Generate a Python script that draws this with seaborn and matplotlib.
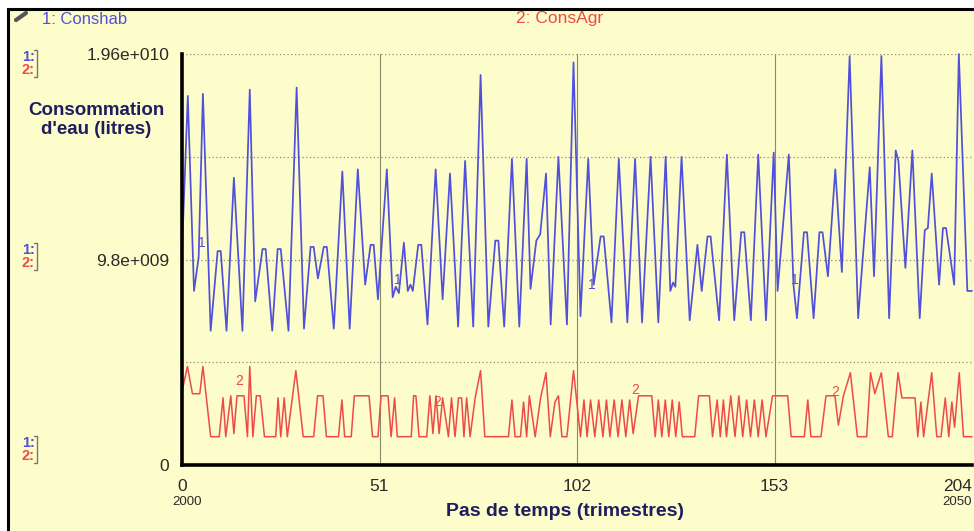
import matplotlib
matplotlib.use("Agg")
import matplotlib.pyplot as plt
import seaborn as sns
import pandas as pd
from matplotlib.patches import Rectangle
from matplotlib.lines import Line2D

# ---------------- data (values in 1e9 litres) ----------------
t_conshab = [0, 1.5, 3.1, 4.3, 5.4, 7.4, 9.2, 10.0, 11.5, 13.4, 15.6, 17.5, 18.9, 20.8, 21.6,
             23.3, 24.7, 25.5, 27.5, 29.6, 31.5, 33.2, 34.0, 35.1, 36.6, 37.4, 39.2, 41.4, 43.3,
             45.4, 47.3, 48.7, 49.5, 50.6, 52.9, 54.4, 55.2, 56.0, 57.3, 58.3, 59.0, 59.6, 61.0,
             61.8, 63.4, 65.5, 67.3, 69.2, 71.3, 73.1, 75.2, 77.1, 79.1, 80.9, 81.7, 83.2, 85.2,
             87.1, 89.0, 90.0, 91.5, 92.5, 94.0, 95.2, 97.2, 99.4, 101.1, 102.9, 104.9, 106.3,
             108.1, 108.9, 110.9, 112.8, 115.0, 117.0, 118.8, 121.0, 123.0, 124.9, 126.1, 126.8,
             127.4, 129.0, 131.1, 133.1, 134.2, 135.7, 136.5, 138.7, 140.7, 142.6, 144.4, 145.2,
             146.9, 148.8, 150.8, 152.8, 153.8, 156.7, 157.9, 158.8, 160.6, 161.4, 163.1, 164.6,
             165.4, 166.8, 168.7, 170.4, 172.4, 174.6, 177.6, 178.7, 180.6, 182.6, 184.3, 185.0,
             186.8, 188.6, 190.5, 191.8, 192.6, 193.6, 195.5, 196.5, 197.3, 199.4, 200.6, 202.8, 204]
conshab = [10.2, 17.6, 8.3, 9.9, 17.7, 6.4, 10.2, 10.2, 6.4, 13.7, 6.4, 17.9, 7.8, 10.3, 10.3,
           6.4, 10.3, 10.3, 6.4, 18.0, 6.5, 10.4, 10.4, 8.9, 10.4, 10.4, 6.5, 14.0, 6.5,
           14.1, 8.6, 10.5, 10.5, 7.9, 14.1, 8.0, 8.5, 8.2, 10.6, 8.3, 8.6, 8.3, 10.5,
           10.5, 6.7, 14.1, 7.9, 13.9, 6.6, 14.5, 6.6, 18.6, 6.6, 10.7, 10.7, 6.6, 14.6,
           6.6, 14.6, 8.4, 10.7, 11.0, 13.9, 6.7, 14.7, 6.7, 19.2, 7.1, 14.6, 8.6,
           10.9, 10.9, 6.8, 14.6, 6.8, 14.6, 6.8, 14.7, 6.8, 14.7, 8.3, 8.7,
           8.5, 14.7, 6.9, 10.5, 8.3, 10.9, 10.9, 6.9, 14.8, 6.9, 11.1, 11.1,
           6.9, 14.8, 6.9, 14.9, 8.3, 14.8, 8.6, 7.0, 11.1, 11.1, 7.0, 11.1,
           11.1, 9.0, 14.1, 9.2, 19.5, 7.0, 14.2, 9.0, 19.5, 7.0, 15.0, 14.5,
           9.4, 15.0, 7.0, 11.2, 11.3, 13.9, 8.6, 11.3, 11.3, 8.6, 19.6, 8.3, 8.3]

t_consagr = [0, 1.4, 2.7, 4.6, 5.4, 7.4, 9.6, 10.6, 11.3, 12.6, 13.4, 14.2, 16.0, 16.9, 17.5,
             18.3, 19.2, 20.2, 21.3, 24.2, 24.8, 25.5, 26.4, 27.2, 29.4, 31.3, 34.0, 35.0, 36.4,
             37.3, 40.4, 41.3, 42.0, 43.7, 44.5, 48.3, 49.2, 50.6, 51.4, 53.2, 54.0, 54.9, 55.6,
             59.2, 59.8, 60.4, 61.2, 63.2, 64.0, 64.8, 65.6, 66.4, 67.3, 68.8, 69.6, 70.5, 71.4,
             72.2, 72.8, 73.5, 74.4, 75.7, 77.1, 78.2, 84.3, 85.2, 86.0, 87.4, 88.2, 89.0, 89.7,
             91.2, 92.6, 94.0, 95.1, 96.3, 97.2, 98.1, 99.4, 101.1, 102.9, 103.8, 104.6, 105.5,
             106.6, 107.6, 108.7, 109.6, 110.5, 111.6, 112.6, 113.6, 114.6, 115.6, 116.5, 117.9,
             121.3, 122.2, 123.0, 123.9, 124.8, 125.7, 126.6, 127.5, 128.4, 129.2, 132.4, 133.4,
             136.2, 137.0, 138.2, 139.0, 139.8, 140.6, 141.7, 142.8, 143.8, 144.8, 145.8, 146.8,
             147.8, 148.8, 149.8, 150.8, 152.5, 156.4, 157.3, 160.7, 161.6, 162.4, 165.0, 166.3,
             168.6, 169.5, 170.8, 172.6, 174.4, 176.8, 177.8, 178.9, 180.6, 182.4, 183.4, 184.9,
             185.9, 189.3, 190.0, 190.8, 191.5, 193.6, 194.9, 196.0, 197.1, 198.0, 198.8, 199.5,
             200.7, 201.8, 204]
consagr = [3.5, 4.7, 3.4, 3.4, 4.7, 1.35, 1.35, 3.2, 1.35, 3.3, 1.5, 3.3, 3.3, 1.35, 4.7,
           1.35, 3.3, 3.3, 1.35, 1.35, 3.2, 1.35, 3.2, 1.35, 4.5, 1.35, 1.35, 3.3, 3.3,
           1.35, 1.35, 3.1, 1.35, 1.35, 3.3, 3.3, 1.35, 1.35, 3.3, 3.3, 1.35, 3.2, 1.35,
           1.35, 3.3, 3.3, 1.35, 1.35, 3.3, 1.5, 3.3, 1.5, 3.2, 1.35, 3.2, 1.35, 3.2,
           3.2, 1.35, 3.2, 1.35, 3.2, 4.5, 1.35, 1.35, 3.1, 1.35, 1.35, 3.0, 1.35, 3.3,
           1.35, 3.2, 4.4, 1.35, 3.0, 3.3, 1.35, 1.35, 4.5, 1.35, 3.1, 1.35, 3.1,
           1.35, 3.1, 1.35, 3.1, 1.35, 3.1, 1.35, 3.1, 1.35, 3.1, 1.5, 3.3,
           3.3, 1.35, 3.1, 1.35, 3.1, 1.35, 3.1, 1.35, 3.0, 1.35, 1.35, 3.3,
           3.3, 1.35, 3.1, 1.35, 3.1, 1.35, 3.3, 1.35, 3.3, 1.35, 3.1, 1.35,
           3.1, 1.35, 3.1, 1.35, 3.3, 3.3, 1.35, 1.35, 3.1, 1.35, 1.35, 3.3,
           3.3, 1.9, 3.3, 4.4, 1.35, 1.35, 4.4, 3.4, 4.4, 1.35, 1.35, 4.4,
           3.2, 3.2, 1.35, 3.0, 1.35, 4.4, 1.35, 1.35, 3.2, 1.35, 3.0, 1.8,
           4.4, 1.35, 1.35]

x_ticks = [0, 51, 102, 153, 204]
y_ticks = [0, 4.9, 9.8, 14.7, 19.6]
y_ticklabels = ["0", "", "9.8e+009", "", "1.96e+010"]

# ---------------- style ----------------
sns.set_theme(style="white")
plt.rcParams['font.family'] = ['Liberation Sans', 'DejaVu Sans']

BG = '#FDFCCB'
BLUE = '#5050DA'
RED = '#EE4A4A'
NAVY = '#1E1E5E'

W, H = 974, 531
fig = plt.figure(figsize=(W / 100, H / 100), dpi=100, facecolor='white')
fig.patches.append(Rectangle((8 / W, -0.05), 1.2, 1.05 - 9 / H, transform=fig.transFigure,
                             facecolor=BG, edgecolor='black', linewidth=2.2, zorder=-10))

ax = fig.add_axes([182 / W, 1 - 465 / H, (972 - 182) / W, (465 - 54) / H])
ax.set_facecolor('none')

df_b = pd.DataFrame({'t': t_conshab, 'v': conshab})
df_r = pd.DataFrame({'t': t_consagr, 'v': consagr})
sns.lineplot(data=df_b, x='t', y='v', ax=ax, color=BLUE, linewidth=1.25,
             estimator=None, sort=False, zorder=3, clip_on=False)
sns.lineplot(data=df_r, x='t', y='v', ax=ax, color=RED, linewidth=1.1,
             estimator=None, sort=False, zorder=3, clip_on=False)

ax.set_xlim(0, 204)
ax.set_ylim(0, 19.6)

# grid
for yv in y_ticks[1:]:
    ax.axhline(yv, color='#8C8C70', linewidth=0.9, linestyle=(0, (1, 2)), zorder=1)
for xv in x_ticks[1:]:
    ax.axvline(xv, color='#8A8A66', linewidth=0.8, zorder=1)

for s in ['top', 'right']:
    ax.spines[s].set_visible(False)
for s in ['left', 'bottom']:
    ax.spines[s].set_color('black')
    ax.spines[s].set_linewidth(2.6)
    ax.spines[s].set_zorder(5)

ax.set_xticks(x_ticks)
ax.set_xticklabels([str(v) for v in x_ticks])
ax.set_yticks(y_ticks)
ax.set_yticklabels(y_ticklabels)
ax.tick_params(axis='both', which='both', direction='out', length=8, width=2.2,
               color='black', labelsize=12.5, labelcolor='#2a2a2a', pad=2)
ax.tick_params(axis='y', pad=1)
xl = ax.get_xticklabels()
xl[-1].set_horizontalalignment('right')
xl[-1].set_x(204)
ax.set_xlabel('')
ax.set_ylabel('')

# labels on series
for (tx, ty) in [(5.0, 10.6), (55.8, 8.8), (105.9, 8.6), (158.3, 8.8)]:
    ax.text(tx, ty, '1', color=BLUE, fontsize=10, ha='center', va='center', zorder=4)
for (tx, ty) in [(14.7, 4.0), (66.0, 3.0), (117.0, 3.6), (168.6, 3.5)]:
    ax.text(tx, ty, '2', color=RED, fontsize=10, ha='center', va='center', zorder=4)

# figure texts
fig.text(42 / W, 1 - 19 / H, '1: Conshab', color=BLUE, fontsize=12, ha='left', va='center')
fig.text(560 / W, 1 - 19 / H, '2: ConsAgr', color=RED, fontsize=12.5, ha='center', va='center')
fig.text(96 / W, 1 - 120 / H, "Consommation\nd'eau (litres)", color=NAVY, fontsize=13.5,
         fontweight='bold', ha='center', va='center', linespacing=1.2)
fig.text(565 / W, 1 - 511 / H, 'Pas de temps (trimestres)', color=NAVY, fontsize=14,
         fontweight='bold', ha='center', va='center')
fig.text(187 / W, 1 - 502 / H, '2000', color='#2a2a2a', fontsize=9.5, ha='center', va='center')
fig.text(972 / W, 1 - 502 / H, '2050', color='#2a2a2a', fontsize=9.5, ha='right', va='center')

# pushpin icon
fig.add_artist(Line2D([16 / W, 26 / W], [1 - 20 / H, 1 - 13 / H], color='#555555',
                      linewidth=3, transform=fig.transFigure))

# left scale markers "1:" / "2:" with bracket
for y1 in [57, 250, 443]:
    fig.text(22 / W, 1 - y1 / H, '1:', color=BLUE, fontsize=10.5, ha='left', va='center',
             fontweight='bold')
    fig.text(22 / W, 1 - (y1 + 13) / H, '2:', color=RED, fontsize=10.5, ha='left', va='center',
             fontweight='bold')
    fig.add_artist(Line2D([34 / W, 37 / W, 37 / W, 34 / W],
                          [1 - (y1 - 7) / H, 1 - (y1 - 7) / H, 1 - (y1 + 20) / H, 1 - (y1 + 20) / H],
                          color='#777777', linewidth=1.0, transform=fig.transFigure))

fig.savefig('out.png', dpi=100, facecolor='white')
